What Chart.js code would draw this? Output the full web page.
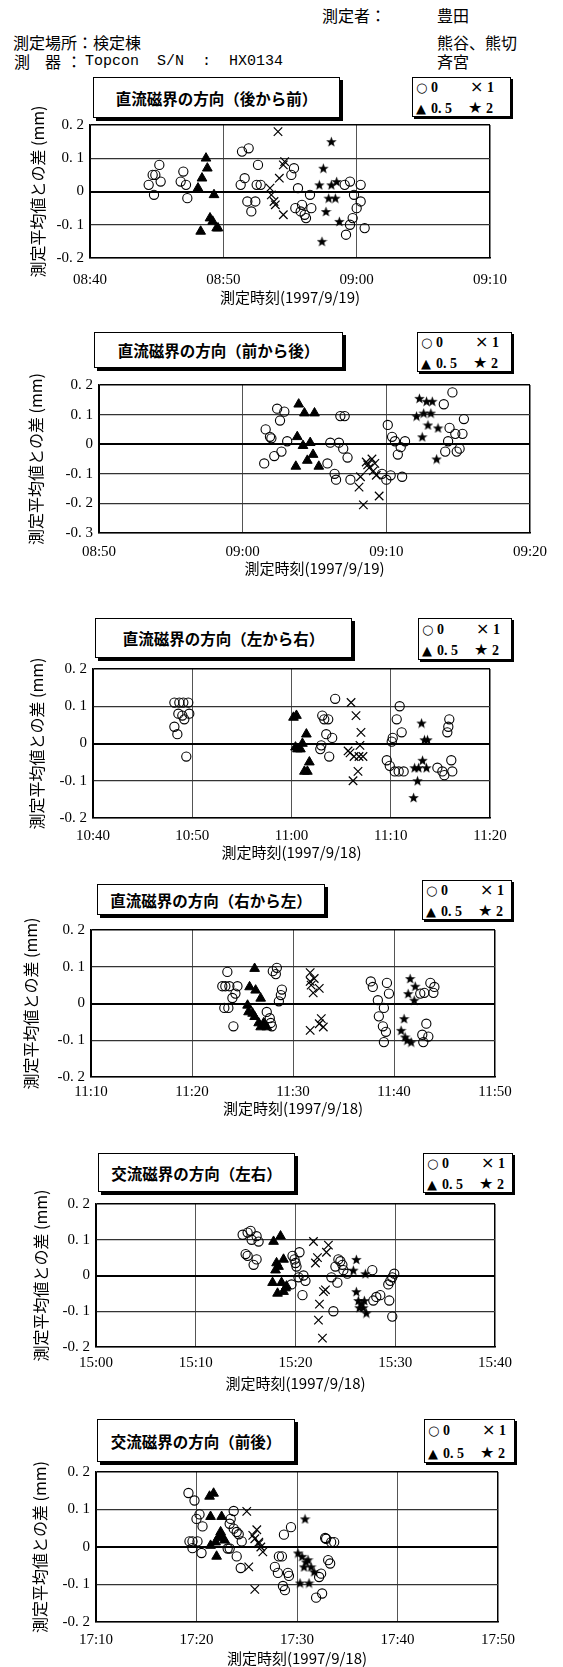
<!DOCTYPE html>
<html lang="ja">
<head>
<meta charset="utf-8">
<title>磁界の方向と測定平均値との差</title>
<script src="https://cdn.jsdelivr.net/npm/chart.js@4.4.1/dist/chart.umd.min.js"></script>
<style>
  body { margin: 0; background: #fff; }
  #page { position: relative; width: 563px; height: 1667px; overflow: hidden; font-family: "Noto Sans CJK JP", sans-serif; color: #000; }
  .hd { position: absolute; font-size: 16px; line-height: 18px; white-space: pre; }
  .mono { font-family: "Liberation Mono", monospace; font-size: 15px; }
  .ttl { position: absolute; border: 1.5px solid #000; box-shadow: 3px 3px 0 #000; background: #fff; box-sizing: border-box;
         display: flex; align-items: center; justify-content: center; font-weight: bold; font-size: 15.5px; }
  .lg { position: absolute; border: 1.5px solid #000; box-shadow: 2px 2px 0 #000; background: #fff; box-sizing: border-box; }
  .lg span { position: absolute; line-height: 14px; }
  .sym { font-family: "DejaVu Sans", sans-serif; font-size: 13px; }
  .big { font-size: 16px; }
  .num { font-family: "Liberation Serif", serif; font-weight: bold; font-size: 14px; }
  canvas { position: absolute; left: 0; }
</style>
</head>
<body>
<div id="page">
  <div class="hd" style="left:322px;top:6px">測定者：</div>
  <div class="hd" style="left:437px;top:6px">豊田</div>
  <div class="hd" style="left:13px;top:33px">測定場所：検定棟</div>
  <div class="hd" style="left:437px;top:33px">熊谷、熊切</div>
  <div class="hd" style="left:14px;top:52px">測</div>
  <div class="hd" style="left:45px;top:52px">器</div>
  <div class="hd" style="left:66px;top:52px">：</div>
  <div class="hd mono" style="left:85px;top:53px">Topcon  S/N  :  HX0134</div>
  <div class="hd" style="left:437px;top:52px">斉宮</div>
</div>
<script>
// 測定平均値との差 (mm) — [測定時刻, 値]
// 直流磁界の方向（後から前）
const c1Zero = [['08:44.4',0.02],['08:44.7',0.05],['08:44.9',0.05],['08:45.2',0.08],['08:45.3',0.03],['08:44.8',-0.01],
  ['08:47.0',0.06],['08:46.8',0.03],['08:47.2',0.02],['08:47.3',-0.02],
  ['08:51.4',0.12],['08:51.9',0.13],['08:52.6',0.08],['08:51.6',0.04],['08:51.3',0.02],['08:52.5',0.02],['08:52.8',0.02],['08:51.8',-0.03],['08:52.4',-0.03],['08:52.1',-0.06],
  ['08:55.3',0.07],['08:55.1',0.05],['08:55.6',0.01],['08:55.4',-0.05],['08:55.8',-0.06],['08:55.9',-0.04],['08:56.1',-0.07],['08:56.2',-0.08],['08:56.5',-0.01],['08:56.6',-0.05],
  ['08:59.1',0.02],['08:59.5',0.03],['08:59.8',-0.01],['09:00.0',-0.05],['09:00.3',-0.03],['09:00.3',0.02],['08:59.7',-0.08],['08:59.5',-0.10],['08:59.2',-0.13],['09:00.6',-0.11]];
const c1Half = [['08:48.7',0.10],['08:48.8',0.07],['08:48.4',0.04],['08:48.1',0.01],['08:49.3',-0.01],['08:49.0',-0.08],['08:49.2',-0.09],['08:48.3',-0.12],['08:49.5',-0.11],['08:49.6',-0.11]];
const c1One = [['08:54.1',0.18],['08:54.6',0.09],['08:54.5',0.08],['08:54.2',0.04],['08:53.5',0.01],['08:53.6',-0.01],['08:53.8',-0.03],['08:53.9',-0.04],['08:54.5',-0.07]];
const c1Two = [['08:58.1',0.15],['08:57.5',0.07],['08:57.2',0.02],['08:58.1',0.02],['08:58.5',0.03],['08:57.9',-0.02],['08:58.4',-0.02],['08:57.7',-0.06],['08:58.7',-0.09],['08:57.4',-0.15]];

// 直流磁界の方向（前から後）
const c2Zero = [['09:01.6',0.05],['09:01.9',0.025],['09:02.0',0.02],['09:02.4',0.12],['09:02.9',0.11],['09:02.6',0.08],['09:03.1',0.01],['09:01.5',-0.065],['09:02.2',-0.04],['09:02.7',-0.025],
  ['09:05.9',-0.065],['09:06.1',0.005],['09:06.7',0.005],['09:06.8',0.095],['09:07.1',0.095],['09:07.0',-0.015],['09:07.3',-0.045],['09:06.4',-0.10],['09:06.5',-0.12],['09:07.5',-0.12],
  ['09:10.1',0.065],['09:10.4',0.025],['09:10.6',0.01],['09:11.0',-0.01],['09:11.3',0.01],['09:10.8',-0.035],['09:09.7',-0.10],['09:10.0',-0.12],['09:10.3',-0.105],['09:11.1',-0.11],
  ['09:14.0',0.135],['09:14.6',0.175],['09:14.4',0.055],['09:14.8',0.035],['09:15.3',0.035],['09:15.4',0.085],['09:14.3',0.01],['09:14.1',-0.025],['09:14.9',-0.025],['09:15.1',-0.015]];
const c2Half = [['09:03.9',0.135],['09:04.3',0.105],['09:05.0',0.105],['09:03.8',0.025],['09:04.2',-0.005],['09:04.7',0.005],['09:04.9',-0.035],['09:04.5',-0.055],['09:03.7',-0.075],['09:05.3',-0.075]];
const c2One = [['09:09.0',-0.05],['09:08.7',-0.07],['09:08.8',-0.08],['09:09.2',-0.065],['09:09.1',-0.09],['09:09.3',-0.105],['09:08.2',-0.11],['09:08.1',-0.145],['09:08.4',-0.205],['09:09.5',-0.175],['09:08.6',-0.06]];
const c2Two = [['09:12.3',0.155],['09:12.8',0.145],['09:13.2',0.145],['09:12.1',0.095],['09:12.6',0.105],['09:13.1',0.105],['09:12.9',0.065],['09:13.6',0.055],['09:12.5',0.025],['09:13.5',-0.05]];

// 直流磁界の方向（左から右）
const c3Zero = [['10:48.2',0.11],['10:48.7',0.11],['10:49.1',0.11],['10:49.6',0.11],['10:48.6',0.08],['10:49.0',0.075],['10:49.2',0.065],['10:49.7',0.08],['10:48.2',0.045],['10:48.5',0.025],['10:49.4',-0.035],
  ['11:04.4',0.12],['11:03.1',0.075],['11:03.3',0.065],['11:03.7',0.065],['11:03.5',0.025],['11:04.1',0.015],['11:02.9',-0.015],['11:03.0',-0.005],['11:03.8',-0.035],
  ['11:10.9',0.10],['11:10.6',0.065],['11:11.1',0.03],['11:10.2',0.015],['11:10.1',0.005],['11:09.6',-0.045],['11:09.9',-0.06],['11:10.4',-0.075],['11:10.8',-0.075],['11:11.3',-0.075],
  ['11:15.8',0.045],['11:15.9',0.065],['11:15.7',0.03],['11:16.1',-0.045],['11:16.2',-0.075],['11:14.7',-0.065],['11:15.2',-0.075],['11:15.4',-0.085]];
const c3Half = [['11:00.2',0.07],['11:00.5',0.075],['11:00.4',-0.01],['11:00.6',-0.015],['11:00.9',-0.015],['11:01.1',0.0],['11:01.5',0.025],['11:01.8',-0.05],['11:01.3',-0.075],['11:01.6',-0.075]];
const c3One = [['11:06.0',0.11],['11:06.5',0.075],['11:07.0',0.03],['11:06.9',-0.005],['11:07.2',-0.035],['11:06.3',-0.035],['11:05.7',-0.02],['11:05.9',-0.025],['11:06.7',-0.075],['11:06.2',-0.10],['11:06.8',-0.035]];
const c3Two = [['11:13.1',0.055],['11:13.4',0.01],['11:13.7',0.01],['11:13.2',-0.045],['11:12.4',-0.065],['11:12.8',-0.065],['11:13.6',-0.065],['11:12.7',-0.10],['11:12.3',-0.145]];

// 直流磁界の方向（右から左）
const c4Zero = [['11:23.5',0.086],['11:23.0',0.047],['11:23.3',0.047],['11:23.7',0.047],['11:24.5',0.047],['11:24.3',0.027],['11:24.0',0.015],['11:23.2',-0.012],['11:23.6',-0.012],['11:24.1',-0.062],
  ['11:28.0',0.088],['11:28.4',0.097],['11:28.3',0.08],['11:28.9',0.038],['11:28.8',0.023],['11:28.6',0.006],['11:27.4',-0.023],['11:27.7',-0.04],['11:27.8',-0.053],['11:27.9',-0.062],
  ['11:37.7',0.06],['11:37.9',0.045],['11:39.3',0.056],['11:38.4',0.009],['11:39.5',0.027],['11:39.0',-0.012],['11:38.5',-0.035],['11:38.9',-0.062],['11:39.2',-0.077],['11:39.0',-0.105],
  ['11:42.6',0.027],['11:43.0',0.029],['11:43.6',0.056],['11:44.0',0.045],['11:43.9',0.029],['11:43.2',-0.055],['11:42.8',-0.085],['11:43.4',-0.09],['11:42.9',-0.105]];
const c4Half = [['11:26.2',0.095],['11:25.7',0.045],['11:26.3',0.036],['11:26.8',0.014],['11:25.5',-0.005],['11:25.6',-0.023],['11:26.0',-0.027],['11:26.2',-0.036],['11:26.6',-0.053],['11:26.8',-0.064],['11:27.1',-0.053],['11:27.4',-0.064]];
const c4One = [['11:31.7',0.084],['11:32.1',0.068],['11:31.8',0.05],['11:32.0',0.029],['11:32.6',0.041],['11:31.7',0.06],['11:32.8',-0.041],['11:33.0',-0.064],['11:31.7',-0.073],['11:32.6',-0.055]];
const c4Two = [['11:41.6',0.068],['11:42.1',0.047],['11:41.4',0.027],['11:42.0',0.009],['11:41.0',-0.041],['11:40.7',-0.073],['11:41.1',-0.091],['11:41.3',-0.1],['11:41.7',-0.105]];

// 交流磁界の方向（左右）
const c5Zero = [['15:14.7',0.114],['15:15.2',0.12],['15:15.5',0.125],['15:15.6',0.10],['15:16.1',0.11],['15:16.3',0.095],['15:15.0',0.06],['15:15.2',0.055],['15:16.1',0.045],['15:15.8',0.03],
  ['15:19.7',0.055],['15:20.4',0.065],['15:20.0',0.035],['15:19.9',0.045],['15:20.1',0.025],['15:20.3',-0.005],['15:20.8',0.0],['15:21.0',-0.015],['15:19.6',-0.025],['15:20.7',-0.055],
  ['15:23.6',-0.005],['15:24.0',0.025],['15:24.2',-0.02],['15:24.3',0.045],['15:24.5',0.04],['15:24.7',0.03],['15:24.8',0.015],['15:25.2',0.005],['15:23.8',-0.10],
  ['15:27.7',0.015],['15:27.8',-0.07],['15:28.1',-0.06],['15:28.5',-0.055],['15:29.4',-0.07],['15:29.3',-0.025],['15:29.5',-0.015],['15:29.7',-0.005],['15:29.9',0.005],['15:29.7',-0.115]];
const c5Half = [['15:17.8',0.095],['15:18.5',0.11],['15:18.1',0.035],['15:18.3',0.025],['15:18.0',0.015],['15:18.8',0.045],['15:17.7',-0.02],['15:18.6',-0.02],['15:18.2',-0.05],['15:19.0',-0.035],['15:18.8',-0.045],['15:19.1',-0.03]];
const c5One = [['15:21.8',0.095],['15:23.3',0.085],['15:23.1',0.065],['15:22.0',0.035],['15:22.2',0.05],['15:22.8',-0.045],['15:23.0',-0.04],['15:22.4',-0.08],['15:22.3',-0.125],['15:22.7',-0.175]];
const c5Two = [['15:26.1',0.045],['15:25.8',0.015],['15:27.0',0.005],['15:26.1',-0.045],['15:26.3',-0.07],['15:26.6',-0.08],['15:26.8',-0.09],['15:27.1',-0.105],['15:26.4',-0.09],['15:26.9',-0.07]];

// 交流磁界の方向（前後）
const c6Zero = [['17:19.2',0.144],['17:19.8',0.124],['17:20.3',0.087],['17:20.0',0.075],['17:20.6',0.055],['17:19.3',0.015],['17:19.6',0.015],['17:20.1',0.015],['17:19.6',-0.003],['17:20.5',-0.016],
  ['17:23.7',0.096],['17:23.4',0.075],['17:23.3',0.062],['17:23.7',0.049],['17:24.0',0.04],['17:24.2',0.034],['17:24.5',0.015],['17:23.1',-0.004],['17:23.3',-0.004],['17:24.0',-0.025],['17:24.4',-0.056],
  ['17:28.7',0.033],['17:29.4',0.053],['17:28.2',-0.025],['17:28.5',-0.025],['17:27.8',-0.053],['17:28.1',-0.069],['17:29.1',-0.069],['17:29.2',-0.077],['17:28.6',-0.104],['17:28.8',-0.115],
  ['17:32.8',0.024],['17:32.9',0.022],['17:33.4',0.013],['17:33.7',0.013],['17:33.1',-0.035],['17:33.3',-0.044],['17:32.4',-0.071],['17:32.2',-0.08],['17:31.9',-0.135],['17:32.5',-0.124]];
const c6Half = [['17:21.3',0.135],['17:21.7',0.143],['17:21.4',0.081],['17:22.5',0.081],['17:22.4',0.04],['17:22.6',0.024],['17:22.2',0.027],['17:21.9',0.013],['17:21.4',0.004],['17:22.8',0.018],['17:22.0',-0.025]];
const c6One = [['17:25.0',0.095],['17:26.0',0.046],['17:25.6',0.031],['17:25.8',0.022],['17:26.2',0.013],['17:26.4',0.0],['17:26.6',-0.013],['17:26.2',0.009],['17:25.2',-0.053],['17:25.8',-0.113]];
const c6Two = [['17:30.8',0.075],['17:30.1',-0.016],['17:30.5',-0.025],['17:31.1',-0.034],['17:30.7',-0.053],['17:31.4',-0.053],['17:31.7',-0.066],['17:30.3',-0.096],['17:31.2',-0.096],['17:30.9',-0.04]];

// titles, axes and tick ranges
const titles = ['直流磁界の方向（後から前）', '直流磁界の方向（前から後）', '直流磁界の方向（左から右）',
                '直流磁界の方向（右から左）', '交流磁界の方向（左右）', '交流磁界の方向（前後）'];
const dates = ['1997/9/19', '1997/9/19', '1997/9/18', '1997/9/18', '1997/9/18', '1997/9/18'];
const xRanges = [['08:40', '09:10'], ['08:50', '09:20'], ['10:40', '11:20'], ['11:10', '11:50'], ['15:00', '15:40'], ['17:10', '17:50']];
const yRanges = [[-0.2, 0.2], [-0.3, 0.2], [-0.2, 0.2], [-0.2, 0.2], [-0.2, 0.2], [-0.2, 0.2]];
const legendLabels = ['0', '0. 5', '1', '2'];
const yTitle = '測定平均値との差 (mm)';

const series = [
  [c1Zero, c1Half, c1One, c1Two], [c2Zero, c2Half, c2One, c2Two], [c3Zero, c3Half, c3One, c3Two],
  [c4Zero, c4Half, c4One, c4Two], [c5Zero, c5Half, c5One, c5Two], [c6Zero, c6Half, c6One, c6Two]
];

// page layout (pixels)
const layout = [
  { plot: [90, 490, 125, 258],   tick: 22, xt: 39, yt: 38, ttl: [93, 77, 247, 41],   lg: [412, 77, 99, 40] },
  { plot: [99, 530, 385, 533],   tick: 19, xt: 35, yt: 36, ttl: [94, 332, 249, 36],  lg: [417, 332, 95, 40] },
  { plot: [93, 490, 669, 818],   tick: 18, xt: 34, yt: 37, ttl: [95, 618, 257, 40],  lg: [418, 618, 94, 42] },
  { plot: [91, 495, 930, 1077],  tick: 15, xt: 31, yt: 31, ttl: [97, 884, 228, 31],  lg: [422, 880, 90, 40] },
  { plot: [96, 495, 1204, 1347], tick: 16, xt: 36, yt: 41, ttl: [98, 1153, 197, 39], lg: [423, 1153, 90, 40] },
  { plot: [96, 498, 1472, 1622], tick: 18, xt: 36, yt: 40, ttl: [97, 1419, 198, 43], lg: [424, 1419, 91, 44] }
];

const toMin = s => { const p = s.split(':'); return +p[0] * 60 + parseFloat(p[1]); };
const pts = arr => arr.map(d => ({ x: toMin(d[0]), y: d[1] }));
const fmtTime = v => String(Math.floor(v / 60)).padStart(2, '0') + ':' + String(Math.round(v % 60)).padStart(2, '0');
const fmtVal = v => { const r = Math.round(v * 10) / 10; return r === 0 ? '0' : r.toFixed(1).replace('.', '. '); };

// filled five-pointed star for the "2" series
function starImage(size) {
  const c = document.createElement('canvas');
  c.width = c.height = size;
  const g = c.getContext('2d');
  g.fillStyle = '#000';
  g.beginPath();
  for (let i = 0; i < 10; i++) {
    const r = i % 2 ? size * 0.21 : size / 2;
    const a = -Math.PI / 2 + i * Math.PI / 5;
    g.lineTo(size / 2 + r * Math.cos(a), size / 2 + 0.5 + r * Math.sin(a));
  }
  g.closePath();
  g.fill();
  return c;
}
const star = starImage(11);

const numFont = { family: '"Liberation Serif", serif', size: 15, lineHeight: 1.2 };
const page = document.getElementById('page');

layout.forEach(function (L, i) {
  const [left, right, top, bottom] = L.plot;
  const padTop = 32, padRight = 36;
  const xH = L.xt + 9;

  // title box
  const t = document.createElement('div');
  t.className = 'ttl';
  t.style.cssText = `left:${L.ttl[0]}px;top:${L.ttl[1]}px;width:${L.ttl[2]}px;height:${L.ttl[3]}px`;
  t.textContent = titles[i];
  page.appendChild(t);

  // legend box
  const g = document.createElement('div');
  g.className = 'lg';
  g.style.cssText = `left:${L.lg[0]}px;top:${L.lg[1]}px;width:${L.lg[2]}px;height:${L.lg[3]}px`;
  const r1 = Math.round(L.lg[3] * 0.25) - 7, r2 = Math.round(L.lg[3] * 0.77) - 7;
  g.innerHTML =
    `<span class="sym" style="left:3px;top:${r1}px">○</span>` +
    `<span class="num" style="left:18px;top:${r1}px">${legendLabels[0]}</span>` +
    `<span class="sym big" style="left:57px;top:${r1 - 1}px">×</span>` +
    `<span class="num" style="left:74px;top:${r1}px">${legendLabels[2]}</span>` +
    `<span class="sym" style="left:3px;top:${r2}px">▲</span>` +
    `<span class="num" style="left:18px;top:${r2}px">${legendLabels[1]}</span>` +
    `<span class="sym big" style="left:55px;top:${r2 - 1}px">★</span>` +
    `<span class="num" style="left:73px;top:${r2}px">${legendLabels[3]}</span>`;
  page.appendChild(g);

  // chart canvas (transparent, may overlap the boxes above the plot)
  const cv = document.createElement('canvas');
  cv.width = right + padRight;
  cv.height = padTop + (bottom - top) + xH;
  cv.style.top = (top - padTop) + 'px';
  page.appendChild(cv);

  const [z, h, o, s] = series[i];
  new Chart(cv.getContext('2d'), {
    type: 'scatter',
    data: {
      datasets: [
        { label: legendLabels[0], data: pts(z), pointStyle: 'circle', pointRadius: 4.6,
          borderColor: '#000', pointBorderColor: '#000', backgroundColor: 'rgba(0,0,0,0)', pointBackgroundColor: 'rgba(0,0,0,0)', pointBorderWidth: 1.1 },
        { label: legendLabels[1], data: pts(h), pointStyle: 'triangle', pointRadius: 5.6,
          borderColor: '#000', pointBorderColor: '#000', backgroundColor: '#000', pointBackgroundColor: '#000', pointBorderWidth: 1 },
        { label: legendLabels[2], data: pts(o), pointStyle: 'crossRot', pointRadius: 6,
          borderColor: '#000', pointBorderColor: '#000', pointBorderWidth: 1.2 },
        { label: legendLabels[3], data: pts(s), pointStyle: star, pointRadius: 5 }
      ]
    },
    options: {
      responsive: false,
      animation: false,
      layout: { padding: { top: padTop, right: padRight, left: 0, bottom: 0 } },
      plugins: { legend: { display: false }, tooltip: { enabled: false } },
      scales: {
        x: {
          type: 'linear',
          min: toMin(xRanges[i][0]),
          max: toMin(xRanges[i][1]),
          ticks: { stepSize: 10, padding: L.tick - 9, color: '#000', font: numFont, maxRotation: 0, autoSkip: false, callback: fmtTime },
          grid: {
            drawTicks: false,
            color: c => (c.index === 0 || c.tick.value === toMin(xRanges[i][1])) ? '#000' : '#555',
            lineWidth: c => (c.tick.value === toMin(xRanges[i][1])) ? 1.5 : 1
          },
          border: { color: '#000', width: 1.5 },
          title: { display: true, text: '測定時刻(' + dates[i] + ')', color: '#000', padding: 0,
                   font: { family: '"Noto Sans CJK JP", sans-serif', size: 15, lineHeight: 1.2 } },
          afterFit: sc => { sc.height = xH; sc.paddingLeft = 0; sc.paddingRight = 0; }
        },
        y: {
          min: yRanges[i][0],
          max: yRanges[i][1],
          ticks: { stepSize: 0.1, padding: 6, color: '#000', font: numFont, callback: fmtVal },
          grid: {
            drawTicks: false,
            color: c => Math.abs(c.tick.value) < 1e-9 || Math.abs(c.tick.value - yRanges[i][1]) < 1e-9 ? '#000' : '#333',
            lineWidth: c => Math.abs(c.tick.value) < 1e-9 ? 2 : (Math.abs(c.tick.value - yRanges[i][1]) < 1e-9 ? 1.5 : 1.2)
          },
          border: { color: '#000', width: 1.5 },
          title: { display: true, text: yTitle, color: '#000', padding: { top: L.yt - 9.6, bottom: 0 },
                   font: { family: '"Noto Sans CJK JP", sans-serif', size: 16, lineHeight: 1.2 } },
          afterFit: sc => { sc.width = left; sc.paddingTop = 0; sc.paddingBottom = 0; }
        }
      }
    }
  });
});
</script>
</body>
</html>
